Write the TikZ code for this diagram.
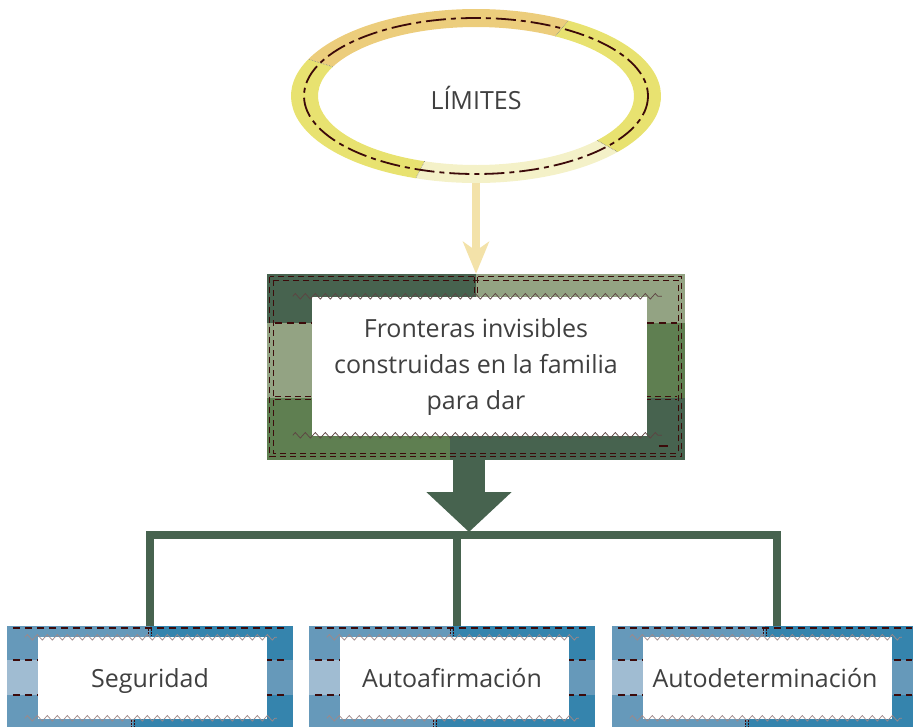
\documentclass[tikz,border=0pt]{standalone}
\usepackage{fontspec}
\setmainfont{Open Sans}
\usepackage{tikz}
\usetikzlibrary{arrows.meta,positioning,calc,shapes.geometric,backgrounds,decorations.pathmorphing}

\definecolor{leafdark}{HTML}{47634F}
\definecolor{leafsage}{HTML}{93A383}
\definecolor{leafmid}{HTML}{5F7F51}
\definecolor{skymid}{HTML}{6699BA}
\definecolor{skydark}{HTML}{3584AD}
\definecolor{skylight}{HTML}{A0BCD2}
\definecolor{ringorange}{HTML}{ECCD7C}
\definecolor{ringyellow}{HTML}{E8E270}
\definecolor{ringpale}{HTML}{F4F1C8}
\definecolor{arrowpale}{HTML}{F3E2A9}
\definecolor{stitch}{HTML}{3C0A0A}
\definecolor{inktext}{HTML}{404040}
\definecolor{zigdark}{HTML}{5E4242}
\definecolor{ziglight}{HTML}{A08888}

% tiles, stitches and zigzags of one blue box
\newcommand{\bluetiles}[2]{%
  \begin{scope}[shift={(#1.north west)}]
    \fill[skymid] (0,0) rectangle (#2/2,34);
    \fill[skydark] (#2/2,0) rectangle (#2,34);
    \fill[skylight] (0,34) rectangle (#2/2,69);
    \fill[skymid] (#2/2,34) rectangle (#2,69);
    \fill[skymid] (0,69) rectangle (0.44*#2,104);
    \fill[skydark] (0.44*#2,69) rectangle (#2,104);
    \draw[stitchthick] (6,2) -- (#2-6,2);
    \draw[stitchthick] (6,34) -- (#2-6,34);
    \draw[stitchthick] (6,69) -- (#2-6,69);
    \draw[stitchthin,dash pattern=on 2pt off 1pt] (#2/2-1.5,3) -- (#2/2-1.5,10) (#2/2+1.5,3) -- (#2/2+1.5,10);
    \fill[white] (31,11) rectangle (#2-26,93);
    \draw[zig=ziglight] (18,11.5) -- (#2-16,11.5);
    \draw[zig=ziglight] (18,92.5) -- (#2-16,92.5);
    \draw[stitchthin,dash pattern=on 2pt off 1pt] (0.44*#2-1.5,94) -- (0.44*#2-1.5,101) (0.44*#2+1.5,94) -- (0.44*#2+1.5,101);
  \end{scope}}

\begin{document}
\begin{tikzpicture}
    [x=1pt,y=-1pt,on grid,
     wording/.style={text=inktext,font=\fontsize{25}{36}\selectfont,inner sep=0pt},
     topic/.style={wording,ellipse,minimum width=371pt,minimum height=174pt,text height=27pt,text depth=0pt},
     framebox/.style={wording,rectangle,minimum width=418pt,minimum height=186pt,align=center},
     leafbox/.style={wording,rectangle,minimum width=286pt,minimum height=104pt,text height=19pt,text depth=0pt},
     zig/.style={draw=#1,line width=0.7pt,decorate,decoration={zigzag,segment length=10pt,amplitude=2.8pt}},
     stitchthick/.style={draw=stitch,line width=1.6pt,dash pattern=on 7pt off 5pt},
     stitchthin/.style={draw=stitch,line width=0.7pt,dash pattern=on 6pt off 4pt},
     ringstitch/.style={draw=stitch,line width=1.8pt,dash pattern=on 20pt off 5pt on 5pt off 5pt},
     branch/.style={draw=leafdark,line width=8pt}]

    \useasboundingbox (0,0) rectangle (913,726);

    \node[topic] (limites) at (476,96) {LÍMITES};
    \node[framebox] (fronteras) [below=271pt of limites] {Fronteras invisibles\\construidas en la familia\\para dar};
    \node[leafbox] (autoaf) [below left=311pt and 24pt of fronteras] {Autoafirmación};
    \node[leafbox] (seguridad) [left=302pt of autoaf] {Seguridad};
    \node[leafbox,minimum width=306pt] (autodet) [right=313pt of autoaf] {Autodeterminación};

    \coordinate (hub) at (469,532);
    \coordinate (bar) at (457,534.5);

    \begin{scope}[on background layer]
      % ring round the topic
      \foreach \a/\b/\col in {60/155/ringorange,155/251/ringyellow,251/320/ringpale,320/420/ringyellow}
        \fill[\col] ($(limites.center)+(-\a:185 and 87)$) arc[start angle=-\a,end angle=-\b,x radius=185,y radius=87]
          -- ($(limites.center)+(-\b:158 and 69)$) arc[start angle=-\b,end angle=-\a,x radius=158,y radius=69] -- cycle;
      \foreach \a in {60,155,251,320}
        \draw[gray,line width=0.6pt,densely dotted] ($(limites.center)+(-\a:158 and 69)$) -- ($(limites.center)+(-\a:185 and 87)$);
      \draw[ringstitch] (limites.center) ellipse [x radius=172,y radius=78];

      % green frame
      \begin{scope}[shift={(fronteras.north west)}]
        \fill[leafdark] (0,0) rectangle (209,49);
        \fill[leafsage] (209,0) rectangle (418,49);
        \fill[leafsage] (0,49) rectangle (209,124);
        \fill[leafmid] (209,49) rectangle (418,124);
        \fill[leafmid] (0,124) rectangle (183,186);
        \fill[leafdark] (183,124) rectangle (418,186);
        \draw[stitchthin] (3,3) rectangle (415,183);
        \draw[stitchthin] (6.5,6.5) rectangle (411.5,179.5);
        \draw[stitchthick] (8,49) -- (410,49);
        \draw[stitchthin] (8,122.5) -- (410,122.5) (8,125.5) -- (410,125.5);
        \draw[stitchthin] (207.5,3) -- (207.5,23) (210.5,3) -- (210.5,23);
        \fill[white] (45,23) rectangle (380,162);
        \draw[zig=zigdark] (26,22.5) -- (395,22.5);
        \draw[zig=zigdark] (26,161.5) -- (395,161.5);
        \draw[stitch,line width=1.6pt] (392,172) -- (401,172);
      \end{scope}

      % blue boxes
      \bluetiles{seguridad}{286}
      \bluetiles{autoaf}{286}
      \bluetiles{autodet}{306}
    \end{scope}

    \draw[arrowpale,line width=8pt,-{Stealth[length=32pt,width=26pt,inset=9pt]}] (limites.south) -- (fronteras.north);
    \draw[leafdark,line width=32pt,-{Triangle[length=40pt,width=83pt]}] ([xshift=-7pt]fronteras.south) -- (hub);
    \draw[branch] (seguridad.north) |- (bar) -| ([xshift=12pt]autodet.north);
    \draw[branch] (bar) -- ([xshift=5pt]autoaf.north);

\end{tikzpicture}
\end{document}
